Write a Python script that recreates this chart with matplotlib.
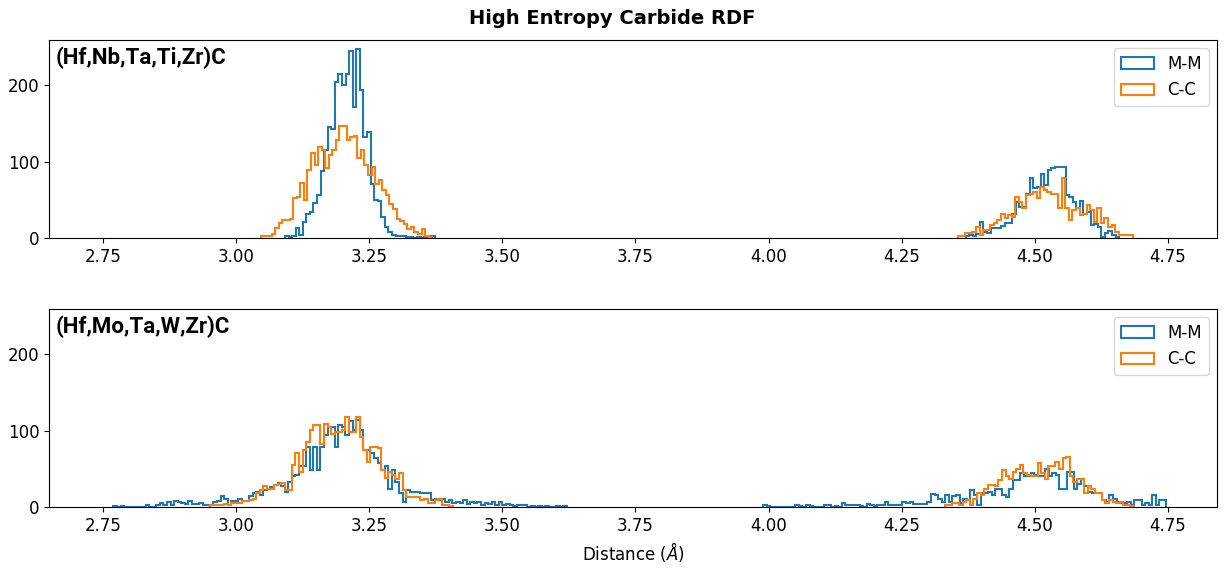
import numpy as np
import matplotlib
matplotlib.use("Agg")
import matplotlib.pyplot as plt

# bin width (Angstrom)
BIN_W = 0.0067

# ---- (Hf,Nb,Ta,Ti,Zr)C ----
top_mm_a_start = 3.092
top_mm_a = [2, 1, 3, 13, 4, 21, 32, 34, 46, 56,
            87, 115, 145, 142, 204, 215, 200, 215, 245, 172,
            247, 193, 132, 138, 71, 50, 48, 28, 15, 8,
            4, 2, 3, 2, 1, 1, 0, 1, 0, 1, 0, 2]
top_mm_b_start = 4.370
top_mm_b = [2, 4, 3, 5, 21, 8, 6, 13, 13, 13,
            16, 19, 19, 32, 47, 41, 41, 58, 78, 65,
            67, 84, 69, 89, 91, 93, 93, 93, 56, 54,
            47, 39, 49, 32, 34, 17, 18, 15, 1, 6,
            9, 4, 1]

top_cc_a_start = 3.047
top_cc_a = [2, 3, 3, 5, 13, 19, 23, 23, 25, 52,
            54, 72, 50, 89, 111, 95, 119, 115, 91, 108,
            115, 128, 146, 147, 128, 132, 134, 104, 115, 95,
            82, 93, 71, 76, 63, 56, 45, 38, 25, 22,
            18, 12, 15, 8, 5, 12, 3, 1]
top_cc_b_start = 4.356
top_cc_b = [3, 3, 6, 6, 8, 15, 4, 11, 11, 17,
            19, 24, 32, 26, 30, 28, 54, 47, 39, 56,
            58, 60, 52, 67, 63, 60, 58, 58, 39, 78,
            39, 24, 37, 39, 30, 32, 43, 37, 21, 39,
            19, 26, 15, 17, 8, 4, 4, 4, 4]

# ---- (Hf,Mo,Ta,W,Zr)C ----
bot_mm_a_start = 2.770
bot_mm_a = [1, 0, 1, 0, 0, 0, 0, 0, 0, 3,
            0, 0, 2, 5, 3, 7, 3, 8, 6, 5,
            4, 8, 4, 4, 5, 2, 2, 3, 6, 8,
            15, 11, 3, 8, 8, 11, 8, 8, 14, 18,
            20, 16, 22, 24, 26, 29, 32, 27, 20, 33,
            40, 42, 53, 53, 79, 49, 79, 49, 79, 94,
            105, 105, 79, 107, 105, 94, 112, 101, 114, 101,
            75, 75, 70, 64, 57, 49, 53, 24, 49, 33,
            18, 7, 22, 20, 20, 20, 18, 18, 18, 9,
            11, 9, 11, 6, 9, 5, 7, 5, 9, 4,
            6, 5, 7, 3, 5, 4, 6, 3, 7, 2,
            4, 3, 1, 3, 2, 3, 0, 1, 0, 1,
            0, 1, 0, 0, 1, 0, 1]
bot_mm_b_start = 3.990
bot_mm_b = [3, 1, 0, 0, 0, 0, 0, 0, 0, 3,
            1, 0, 3, 1, 0, 0, 0, 3, 2, 0,
            1, 0, 5, 3, 3, 3, 3, 1, 0, 4,
            2, 1, 3, 2, 6, 3, 3, 3, 3, 6,
            5, 6, 4, 4, 4, 4, 7, 17, 16, 11,
            7, 16, 7, 14, 16, 5, 11, 9, 22, 16,
            3, 18, 18, 20, 16, 24, 24, 16, 13, 23,
            35, 35, 44, 40, 40, 44, 42, 40, 40, 50,
            40, 44, 42, 24, 24, 46, 46, 24, 30, 37,
            27, 20, 18, 18, 18, 9, 7, 16, 11, 7,
            5, 5, 7, 3, 9, 9, 3, 5, 3, 16,
            3, 9, 9]

bot_cc_a_start = 2.951
bot_cc_a = [3, 3, 2, 3, 4, 3, 5, 5, 5, 8,
            8, 9, 11, 18, 22, 27, 24, 24, 29, 30,
            32, 22, 22, 55, 70, 46, 75, 85, 101, 107,
            107, 83, 109, 105, 96, 98, 98, 101, 118, 98,
            98, 118, 92, 75, 59, 79, 79, 77, 49, 38,
            46, 42, 36, 44, 22, 13, 13, 13, 13, 9,
            11, 5, 5, 9, 11, 3, 2, 1]
bot_cc_b_start = 4.331
bot_cc_b = [3, 3, 5, 5, 2, 7, 9, 3, 11, 18,
            16, 24, 29, 29, 27, 35, 48, 40, 37, 46,
            50, 55, 44, 42, 40, 40, 57, 44, 37, 53,
            53, 59, 50, 64, 66, 40, 33, 37, 37, 18,
            27, 24, 18, 18, 9, 5, 9, 7, 5, 7,
            3, 3, 1]

panels = [
    ("(Hf,Nb,Ta,Ti,Zr)C",
     [(top_mm_a_start, top_mm_a), (top_mm_b_start, top_mm_b)],
     [(top_cc_a_start, top_cc_a), (top_cc_b_start, top_cc_b)]),
    ("(Hf,Mo,Ta,W,Zr)C",
     [(bot_mm_a_start, bot_mm_a), (bot_mm_b_start, bot_mm_b)],
     [(bot_cc_a_start, bot_cc_a), (bot_cc_b_start, bot_cc_b)]),
]


def draw_series(ax, segments, color, label):
    # one step outline per peak, only the first one goes in the legend
    for k, (start, vals) in enumerate(segments):
        vals = np.asarray(vals, dtype=float)
        edges = start + BIN_W * np.arange(len(vals) + 1)
        ax.hist(edges[:-1], bins=edges, weights=vals, histtype="step",
                linewidth=1.5, color=color, label=label if k == 0 else None)


fig, axes = plt.subplots(2, 1, figsize=(12.25, 5.69), dpi=100)
fig.subplots_adjust(left=0.04, right=0.9935, bottom=0.109, top=0.9297, hspace=0.3586)

for ax, (name, mm, cc) in zip(axes, panels):
    draw_series(ax, mm, "C0", "M-M")
    draw_series(ax, cc, "C1", "C-C")
    ax.set_xlim(2.649, 4.842)
    ax.set_ylim(0, 259)
    ax.set_xticks([2.75, 3.00, 3.25, 3.50, 3.75, 4.00, 4.25, 4.50, 4.75])
    ax.set_yticks([0, 100, 200])
    ax.tick_params(labelsize=12)
    ax.text(0.006, 0.965, name, transform=ax.transAxes, ha="left", va="top",
            fontsize=16, fontweight="bold", family="Roboto")
    ax.legend(loc="upper right", fontsize=12)

axes[1].set_xlabel(r"Distance ($\AA$)", fontsize=12)
fig.suptitle("High Entropy Carbide RDF", fontsize=14, fontweight="bold", y=0.985)

plt.savefig("out.png", dpi=100)
